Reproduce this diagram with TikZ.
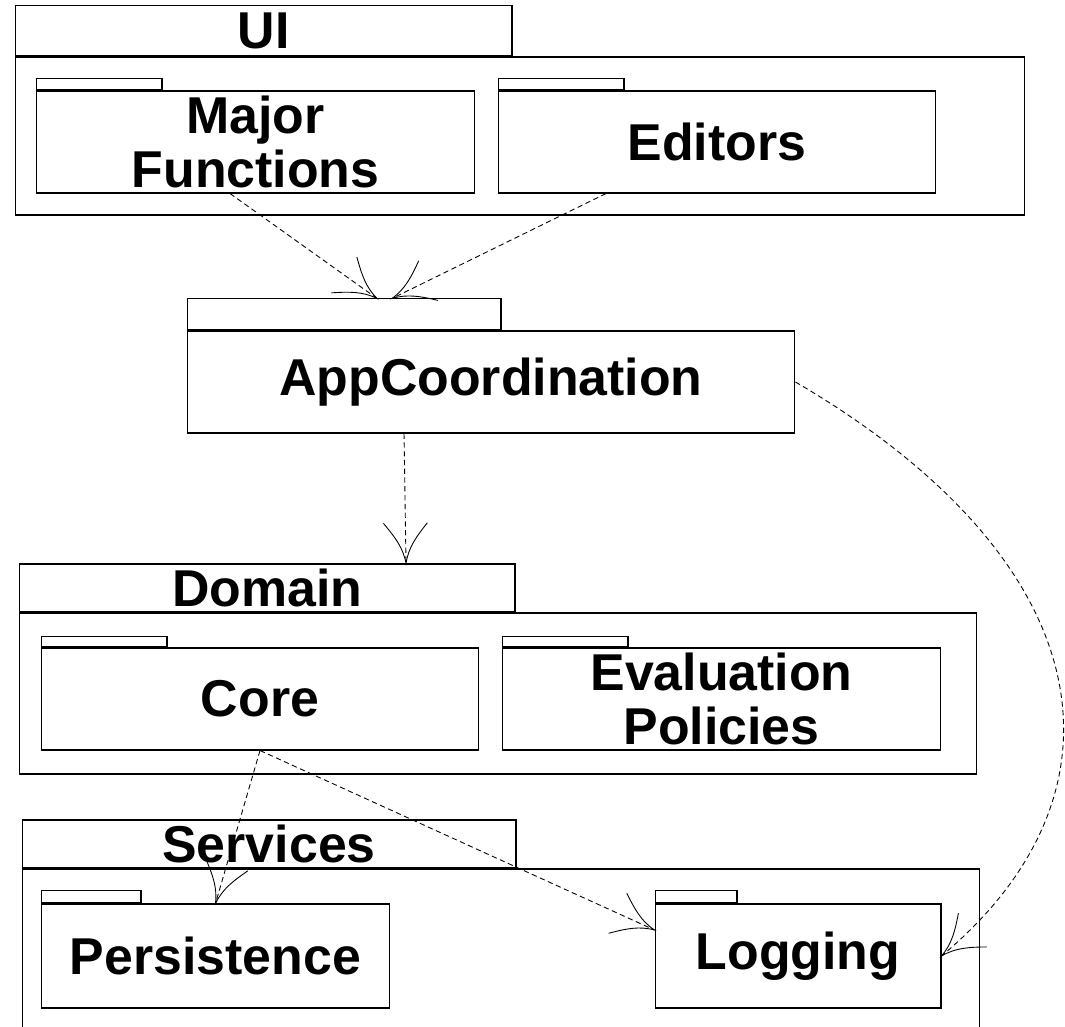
\documentclass[tikz,border=0pt]{standalone}
\usepackage{fontspec}
\setmainfont{Liberation Sans}
\usetikzlibrary{arrows.meta}
%% open barb with flared sides
\pgfdeclarearrow{
    name=flare,
    setup code={
        \pgfarrowssettipend{0pt}
        \pgfarrowssetlineend{0pt}
        \pgfarrowssetbackend{-23pt}
        \pgfarrowssetvisualbackend{-23pt}
        \pgfarrowshullpoint{0pt}{0pt}
        \pgfarrowsupperhullpoint{-23pt}{12.5pt}
    },
    drawing code={
        \pgfsetdash{}{0pt}
        \pgfpathmoveto{\pgfqpoint{-23pt}{12.5pt}}
        \pgfpathcurveto{\pgfqpoint{-15pt}{6pt}}{\pgfqpoint{-9pt}{1.5pt}}{\pgfpointorigin}
        \pgfpathcurveto{\pgfqpoint{-9pt}{-1.5pt}}{\pgfqpoint{-15pt}{-6pt}}{\pgfqpoint{-23pt}{-12.5pt}}
        \pgfusepathqstroke
    }
}
\begin{document}
\begin{tikzpicture}[x=0.02cm,y=-0.02cm,
    box/.style={draw,line width=0.6pt,inner sep=0pt,align=center,
        font=\bfseries\fontsize{29.5}{31}\selectfont},
    dep/.style={line width=0.5pt,dash pattern=on 3pt off 2pt,-flare}]
    \useasboundingbox (0,0) rectangle (1065,1027);
    \clip (0,0) rectangle (1065,1027);
    %% UI
    \node[box,minimum width=20.2cm,minimum height=3.16cm] (ui) at (520,136) {};
    \node[box,anchor=south west,minimum width=9.94cm,minimum height=1cm] (uitab) at (ui.north west) {UI};
    \node[box,minimum width=8.78cm,minimum height=2.04cm] (major) at (255.5,142) {Major\\Functions};
    \node[box,anchor=south west,minimum width=2.52cm,minimum height=0.22cm] (majortab) at (major.north west) {};
    \node[box,minimum width=8.76cm,minimum height=2.04cm] (editors) at (717,142) {Editors};
    \node[box,anchor=south west,minimum width=2.52cm,minimum height=0.22cm] (editorstab) at (editors.north west) {};
    %% app coordination
    \node[box,minimum width=12.16cm,minimum height=2.04cm] (app) at (491,382) {AppCoordination};
    \node[box,anchor=south west,minimum width=6.28cm,minimum height=0.62cm] (apptab) at (app.north west) {};
    %% domain
    \node[box,minimum width=19.16cm,minimum height=3.22cm] (domain) at (498,693.5) {};
    \node[box,anchor=south west,minimum width=9.92cm,minimum height=0.96cm] (domaintab) at (domain.north west) {Domain};
    \node[box,minimum width=8.76cm,minimum height=2.04cm] (core) at (260,699) {Core};
    \node[box,anchor=south west,minimum width=2.52cm,minimum height=0.2cm] (coretab) at (core.north west) {};
    \node[box,minimum width=8.78cm,minimum height=2.04cm] (policies) at (721.5,699) {Evaluation\\Policies};
    \node[box,anchor=south west,minimum width=2.52cm,minimum height=0.2cm] (policiestab) at (policies.north west) {};
    %% services
    \node[box,minimum width=19.16cm,minimum height=3.56cm] (services) at (501,958) {};
    \node[box,anchor=south west,minimum width=9.88cm,minimum height=0.96cm] (servicestab) at (services.north west) {Services};
    \node[box,minimum width=6.98cm,minimum height=2.08cm] (persistence) at (215.5,956) {Persistence};
    \node[box,anchor=south west,minimum width=2cm,minimum height=0.24cm] (persistencetab) at (persistence.north west) {};
    \node[box,minimum width=5.72cm,minimum height=2.08cm] (logging) at (798,956) {Logging};
    \node[box,anchor=south west,minimum width=1.64cm,minimum height=0.24cm] (loggingtab) at (logging.north west) {};
    %% dependencies
    \draw[dep] ([xshift=-0.51cm]major.south) -- ([xshift=0.66cm]apptab.north);
    \draw[dep] ([xshift=-2.22cm]editors.south) -- ([xshift=0.96cm]apptab.north);
    \draw[dep] ([xshift=-1.74cm]app.south) -- ([xshift=2.78cm]domaintab.north);
    \draw[dep] (core.south) -- (persistence.north);
    \draw[dep] (core.south) -- ([yshift=0.52cm]logging.west);
    \draw[dep] (app.east) .. controls (1100,560) and (1140,790) .. (logging.east);
\end{tikzpicture}
\end{document}
